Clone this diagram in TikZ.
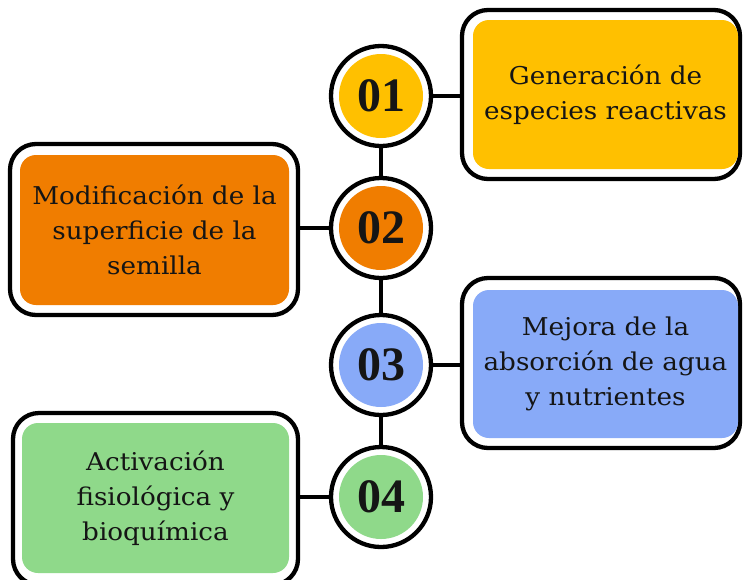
\documentclass[tikz,border=0pt]{standalone}
\usepackage{fontspec}
\setmainfont{DejaVu Serif}[FakeStretch=1.07]
\newfontfamily\numfont{Liberation Serif}
\definecolor{cyel}{HTML}{FFC000}
\definecolor{cora}{HTML}{F07D00}
\definecolor{cblu}{HTML}{88AAF8}
\definecolor{cgrn}{HTML}{8FD98A}
\definecolor{ctxt}{HTML}{151515}
\begin{document}
\begin{tikzpicture}[x=1pt,y=-1pt,
  outerbox/.style={draw=black, line width=4.3pt, fill=white, rounded corners=26pt, inner sep=0pt},
  innerbox/.style={rounded corners=16pt, inner sep=0pt, align=center, text=ctxt,
     font=\fontsize{24.5}{35}\selectfont},
  ring/.style={circle, draw=black, line width=4.3pt, fill=white, minimum size=100pt, inner sep=0pt},
  disc/.style={circle, minimum size=84pt, inner sep=0pt, text=ctxt,
     font=\numfont\bfseries\fontsize{48}{48}\selectfont},
  conn/.style={line width=4pt, draw=black}]
\useasboundingbox (0,0) rectangle (743,579);
\coordinate (p1) at (381,96);
\coordinate (p2) at (381,228);
\coordinate (p3) at (381,365);
\coordinate (p4) at (381,497);
\draw[conn] (p1) -- (p4);
% boxes
\node[outerbox, minimum width=278pt, minimum height=169pt] (b1o) at (601,94.5) {};
\node[innerbox, fill=cyel, minimum width=265pt, minimum height=149pt] (b1) at (605.5,94.5) {Generación de\\especies reactivas};
\node[outerbox, minimum width=288pt, minimum height=171pt] (b2o) at (154,229.5) {};
\node[innerbox, fill=cora, minimum width=269pt, minimum height=150pt] (b2) at (154.5,230) {Modificación de la\\superficie de la\\semilla};
\node[outerbox, minimum width=278pt, minimum height=170pt] (b3o) at (601,363) {};
\node[innerbox, fill=cblu, minimum width=265pt, minimum height=148pt] (b3) at (605.5,364) {Mejora de la\\absorción de agua\\y nutrientes};
\node[outerbox, minimum width=285pt, minimum height=172pt] (b4o) at (155.5,499) {};
\node[innerbox, fill=cgrn, minimum width=267pt, minimum height=150pt] (b4) at (155.5,498) {Activación\\fisiológica y\\bioquímica};
% horizontal connectors
\draw[conn] (p1) -- (p1 -| b1o.west);
\draw[conn] (p2) -- (p2 -| b2o.east);
\draw[conn] (p3) -- (p3 -| b3o.west);
\draw[conn] (p4) -- (p4 -| b4o.east);
% circles
\node[ring] (r1) at (p1) {};
\node[disc, fill=cyel] (c1) at (p1) {01};
\node[ring] (r2) at (p2) {};
\node[disc, fill=cora] (c2) at (p2) {02};
\node[ring] (r3) at (p3) {};
\node[disc, fill=cblu] (c3) at (p3) {03};
\node[ring] (r4) at (p4) {};
\node[disc, fill=cgrn] (c4) at (p4) {04};
\end{tikzpicture}
\end{document}
